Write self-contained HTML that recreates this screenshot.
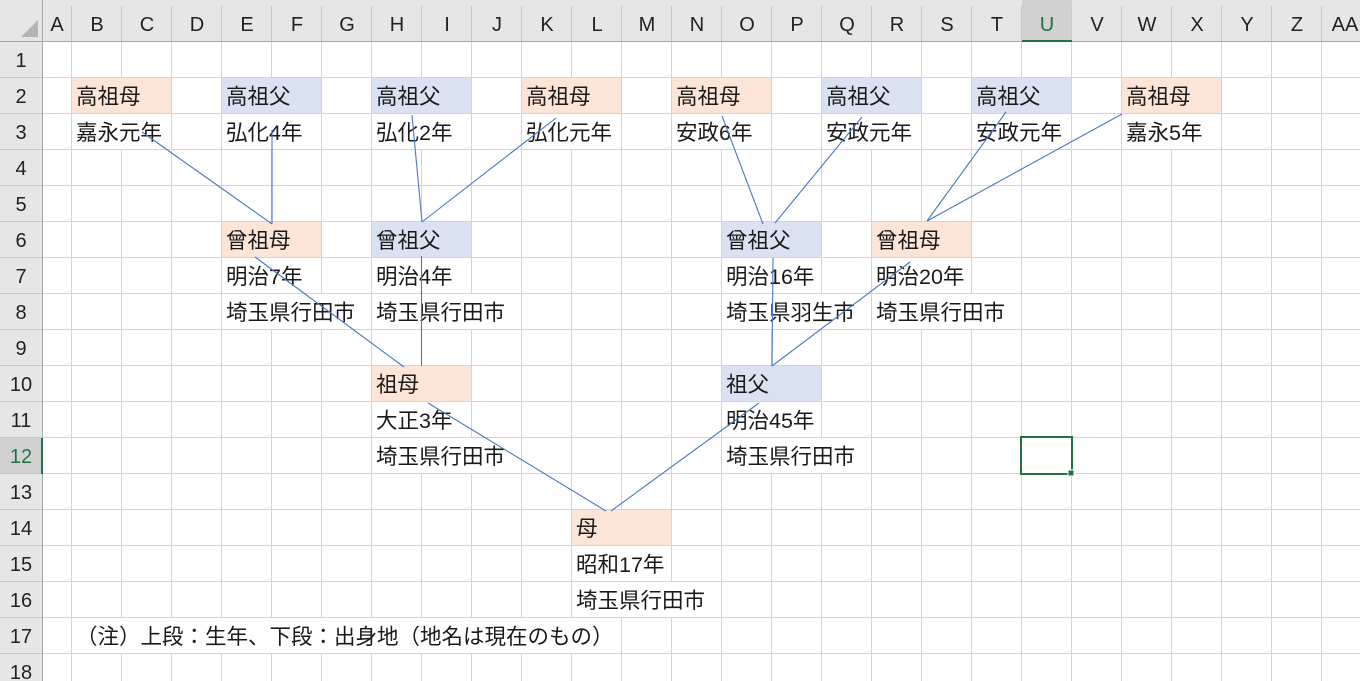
<!DOCTYPE html>
<html><head><meta charset="utf-8">
<style>
html,body{margin:0;padding:0;background:#fff;}
svg{display:block;}
text{font-family:"Liberation Sans","Noto Sans CJK JP",sans-serif;}
.t{font-size:21.5px;fill:#1a1a1a;}
.h{font-size:20px;fill:#222;text-anchor:middle;}
</style></head><body>
<svg width="1360" height="681" xmlns="http://www.w3.org/2000/svg">
<rect width="1360" height="681" fill="#fff"/>
<g id="grid" stroke="#d4d4d4" stroke-width="1">
<line x1="71.5" y1="42" x2="71.5" y2="681"/><line x1="121.5" y1="42" x2="121.5" y2="681"/><line x1="171.5" y1="42" x2="171.5" y2="681"/><line x1="221.5" y1="42" x2="221.5" y2="681"/><line x1="271.5" y1="42" x2="271.5" y2="681"/><line x1="321.5" y1="42" x2="321.5" y2="681"/><line x1="371.5" y1="42" x2="371.5" y2="681"/><line x1="421.5" y1="42" x2="421.5" y2="681"/><line x1="471.5" y1="42" x2="471.5" y2="681"/><line x1="521.5" y1="42" x2="521.5" y2="681"/><line x1="571.5" y1="42" x2="571.5" y2="681"/><line x1="621.5" y1="42" x2="621.5" y2="681"/><line x1="671.5" y1="42" x2="671.5" y2="681"/><line x1="721.5" y1="42" x2="721.5" y2="681"/><line x1="771.5" y1="42" x2="771.5" y2="681"/><line x1="821.5" y1="42" x2="821.5" y2="681"/><line x1="871.5" y1="42" x2="871.5" y2="681"/><line x1="921.5" y1="42" x2="921.5" y2="681"/><line x1="971.5" y1="42" x2="971.5" y2="681"/><line x1="1021.5" y1="42" x2="1021.5" y2="681"/><line x1="1071.5" y1="42" x2="1071.5" y2="681"/><line x1="1121.5" y1="42" x2="1121.5" y2="681"/><line x1="1171.5" y1="42" x2="1171.5" y2="681"/><line x1="1221.5" y1="42" x2="1221.5" y2="681"/><line x1="1271.5" y1="42" x2="1271.5" y2="681"/><line x1="1321.5" y1="42" x2="1321.5" y2="681"/>
<line x1="43" y1="77.5" x2="1360" y2="77.5"/><line x1="43" y1="113.5" x2="1360" y2="113.5"/><line x1="43" y1="149.5" x2="1360" y2="149.5"/><line x1="43" y1="185.5" x2="1360" y2="185.5"/><line x1="43" y1="221.5" x2="1360" y2="221.5"/><line x1="43" y1="257.5" x2="1360" y2="257.5"/><line x1="43" y1="293.5" x2="1360" y2="293.5"/><line x1="43" y1="329.5" x2="1360" y2="329.5"/><line x1="43" y1="365.5" x2="1360" y2="365.5"/><line x1="43" y1="401.5" x2="1360" y2="401.5"/><line x1="43" y1="437.5" x2="1360" y2="437.5"/><line x1="43" y1="473.5" x2="1360" y2="473.5"/><line x1="43" y1="509.5" x2="1360" y2="509.5"/><line x1="43" y1="545.5" x2="1360" y2="545.5"/><line x1="43" y1="581.5" x2="1360" y2="581.5"/><line x1="43" y1="617.5" x2="1360" y2="617.5"/><line x1="43" y1="653.5" x2="1360" y2="653.5"/>
</g>
<g fill="#fff">
<rect x="72" y="114" width="99" height="35"/>
<rect x="222" y="114" width="99" height="35"/><rect x="372" y="114" width="99" height="35"/><rect x="522" y="114" width="99" height="35"/><rect x="672" y="114" width="99" height="35"/><rect x="822" y="114" width="99" height="35"/><rect x="972" y="114" width="99" height="35"/><rect x="1122" y="114" width="99" height="35"/>
<rect x="222" y="258" width="99" height="35"/><rect x="372" y="258" width="99" height="35"/><rect x="722" y="258" width="99" height="35"/><rect x="872" y="258" width="99" height="35"/>
<rect x="222" y="294" width="149" height="35"/><rect x="372" y="294" width="149" height="35"/><rect x="722" y="294" width="149" height="35"/><rect x="872" y="294" width="149" height="35"/>
<rect x="372" y="402" width="99" height="35"/><rect x="722" y="402" width="99" height="35"/>
<rect x="372" y="438" width="149" height="35"/><rect x="722" y="438" width="149" height="35"/>
<rect x="572" y="546" width="99" height="35"/><rect x="572" y="582" width="149" height="35"/>
<rect x="72" y="618" width="549" height="35"/>
</g>
<g>
<rect x="72" y="78" width="99" height="35" fill="#fce4d6"/>
<rect x="222" y="78" width="99" height="35" fill="#d9e1f2"/>
<rect x="372" y="78" width="99" height="35" fill="#d9e1f2"/>
<rect x="522" y="78" width="99" height="35" fill="#fce4d6"/>
<rect x="672" y="78" width="99" height="35" fill="#fce4d6"/>
<rect x="822" y="78" width="99" height="35" fill="#d9e1f2"/>
<rect x="972" y="78" width="99" height="35" fill="#d9e1f2"/>
<rect x="1122" y="78" width="99" height="35" fill="#fce4d6"/>
<rect x="222" y="222" width="99" height="35" fill="#fce4d6"/>
<rect x="372" y="222" width="99" height="35" fill="#d9e1f2"/>
<rect x="722" y="222" width="99" height="35" fill="#d9e1f2"/>
<rect x="872" y="222" width="99" height="35" fill="#fce4d6"/>
<rect x="372" y="366" width="99" height="35" fill="#fce4d6"/>
<rect x="722" y="366" width="99" height="35" fill="#d9e1f2"/>
<rect x="572" y="510" width="99" height="35" fill="#fce4d6"/>
</g>
<g class="t">
<text x="76" y="104">高祖母</text><text x="226" y="104">高祖父</text><text x="376" y="104">高祖父</text><text x="526" y="104">高祖母</text><text x="676" y="104">高祖母</text><text x="826" y="104">高祖父</text><text x="976" y="104">高祖父</text><text x="1126" y="104">高祖母</text>
<text x="76" y="140">嘉永元年</text><text x="226" y="140">弘化4年</text><text x="376" y="140">弘化2年</text><text x="526" y="140">弘化元年</text><text x="676" y="140">安政6年</text><text x="826" y="140">安政元年</text><text x="976" y="140">安政元年</text><text x="1126" y="140">嘉永5年</text>
<text x="226" y="248">曾祖母</text><text x="376" y="248">曾祖父</text><text x="726" y="248">曾祖父</text><text x="876" y="248">曾祖母</text>
<text x="226" y="284">明治7年</text><text x="376" y="284">明治4年</text><text x="726" y="284">明治16年</text><text x="876" y="284">明治20年</text>
<text x="226" y="320">埼玉県行田市</text><text x="376" y="320">埼玉県行田市</text><text x="726" y="320">埼玉県羽生市</text><text x="876" y="320">埼玉県行田市</text>
<text x="376" y="392">祖母</text><text x="726" y="392">祖父</text>
<text x="376" y="428">大正3年</text><text x="726" y="428">明治45年</text>
<text x="376" y="464">埼玉県行田市</text><text x="726" y="464">埼玉県行田市</text>
<text x="576" y="536">母</text><text x="576" y="572">昭和17年</text><text x="576" y="608">埼玉県行田市</text>
<text x="76" y="644">（注）上段：生年、下段：出身地（地名は現在のもの）</text>
</g>
<g stroke="#4a76c8" stroke-width="1.1" fill="none">
<line x1="142" y1="132" x2="272" y2="224"/>
<line x1="272" y1="130" x2="272" y2="224"/>
<line x1="412" y1="115" x2="422" y2="222"/>
<line x1="556" y1="118" x2="422" y2="222"/>
<line x1="722" y1="116" x2="763" y2="224"/>
<line x1="862" y1="117" x2="775" y2="223"/>
<line x1="1006" y1="112" x2="927" y2="221"/>
<line x1="1122" y1="114" x2="927" y2="221"/>
<line x1="255" y1="257" x2="404" y2="367"/>
<line x1="421.5" y1="256" x2="421.5" y2="366"/>
<line x1="773" y1="258" x2="772" y2="366"/>
<line x1="910" y1="262" x2="772" y2="366"/>
<line x1="428" y1="403" x2="606" y2="511"/>
<line x1="759" y1="403" x2="611" y2="511"/>
</g>
<rect x="0" y="0" width="1360" height="42" fill="#e6e6e6"/>
<rect x="0" y="0" width="43" height="681" fill="#e6e6e6"/>
<rect x="1022" y="0" width="50" height="42" fill="#d2d2d2"/>
<rect x="0" y="438" width="43" height="36" fill="#d2d2d2"/>
<polygon points="38,20 38,37 21,37" fill="#b4b4b4"/>
<g stroke="#c8c8c8" stroke-width="1">
<line x1="71.5" y1="6" x2="71.5" y2="42"/><line x1="121.5" y1="6" x2="121.5" y2="42"/><line x1="171.5" y1="6" x2="171.5" y2="42"/><line x1="221.5" y1="6" x2="221.5" y2="42"/><line x1="271.5" y1="6" x2="271.5" y2="42"/><line x1="321.5" y1="6" x2="321.5" y2="42"/><line x1="371.5" y1="6" x2="371.5" y2="42"/><line x1="421.5" y1="6" x2="421.5" y2="42"/><line x1="471.5" y1="6" x2="471.5" y2="42"/><line x1="521.5" y1="6" x2="521.5" y2="42"/><line x1="571.5" y1="6" x2="571.5" y2="42"/><line x1="621.5" y1="6" x2="621.5" y2="42"/><line x1="671.5" y1="6" x2="671.5" y2="42"/><line x1="721.5" y1="6" x2="721.5" y2="42"/><line x1="771.5" y1="6" x2="771.5" y2="42"/><line x1="821.5" y1="6" x2="821.5" y2="42"/><line x1="871.5" y1="6" x2="871.5" y2="42"/><line x1="921.5" y1="6" x2="921.5" y2="42"/><line x1="971.5" y1="6" x2="971.5" y2="42"/><line x1="1021.5" y1="6" x2="1021.5" y2="42"/><line x1="1071.5" y1="6" x2="1071.5" y2="42"/><line x1="1121.5" y1="6" x2="1121.5" y2="42"/><line x1="1171.5" y1="6" x2="1171.5" y2="42"/><line x1="1221.5" y1="6" x2="1221.5" y2="42"/><line x1="1271.5" y1="6" x2="1271.5" y2="42"/><line x1="1321.5" y1="6" x2="1321.5" y2="42"/>
<line x1="0" y1="77.5" x2="43" y2="77.5"/><line x1="0" y1="113.5" x2="43" y2="113.5"/><line x1="0" y1="149.5" x2="43" y2="149.5"/><line x1="0" y1="185.5" x2="43" y2="185.5"/><line x1="0" y1="221.5" x2="43" y2="221.5"/><line x1="0" y1="257.5" x2="43" y2="257.5"/><line x1="0" y1="293.5" x2="43" y2="293.5"/><line x1="0" y1="329.5" x2="43" y2="329.5"/><line x1="0" y1="365.5" x2="43" y2="365.5"/><line x1="0" y1="401.5" x2="43" y2="401.5"/><line x1="0" y1="437.5" x2="43" y2="437.5"/><line x1="0" y1="473.5" x2="43" y2="473.5"/><line x1="0" y1="509.5" x2="43" y2="509.5"/><line x1="0" y1="545.5" x2="43" y2="545.5"/><line x1="0" y1="581.5" x2="43" y2="581.5"/><line x1="0" y1="617.5" x2="43" y2="617.5"/><line x1="0" y1="653.5" x2="43" y2="653.5"/>
</g>
<line x1="0" y1="41.5" x2="1360" y2="41.5" stroke="#a8a8a8"/>
<line x1="42.5" y1="0" x2="42.5" y2="681" stroke="#a8a8a8"/>
<line x1="1022" y1="41" x2="1072" y2="41" stroke="#217346" stroke-width="2"/>
<line x1="42" y1="438" x2="42" y2="474" stroke="#217346" stroke-width="2"/>
<g class="h">
<text x="57" y="31">A</text><text x="97" y="31">B</text><text x="147" y="31">C</text><text x="197" y="31">D</text><text x="247" y="31">E</text><text x="297" y="31">F</text><text x="347" y="31">G</text><text x="397" y="31">H</text><text x="447" y="31">I</text><text x="497" y="31">J</text><text x="547" y="31">K</text><text x="597" y="31">L</text><text x="647" y="31">M</text><text x="697" y="31">N</text><text x="747" y="31">O</text><text x="797" y="31">P</text><text x="847" y="31">Q</text><text x="897" y="31">R</text><text x="947" y="31">S</text><text x="997" y="31">T</text><text x="1047" y="31" fill="#217346">U</text><text x="1097" y="31">V</text><text x="1147" y="31">W</text><text x="1197" y="31">X</text><text x="1247" y="31">Y</text><text x="1297" y="31">Z</text><text x="1345" y="31">AA</text>
<text x="21" y="67">1</text><text x="21" y="103">2</text><text x="21" y="139">3</text><text x="21" y="175">4</text><text x="21" y="211">5</text><text x="21" y="247">6</text><text x="21" y="283">7</text><text x="21" y="319">8</text><text x="21" y="355">9</text><text x="21" y="391">10</text><text x="21" y="427">11</text><text x="21" y="463" fill="#217346">12</text><text x="21" y="499">13</text><text x="21" y="535">14</text><text x="21" y="571">15</text><text x="21" y="607">16</text><text x="21" y="643">17</text><text x="21" y="679">18</text>
</g>
<rect x="1021" y="437" width="51" height="37" fill="none" stroke="#217346" stroke-width="2"/>
<rect x="1068" y="470" width="6" height="6" fill="#217346" stroke="#fff" stroke-width="1"/>
</svg>
</body></html>
